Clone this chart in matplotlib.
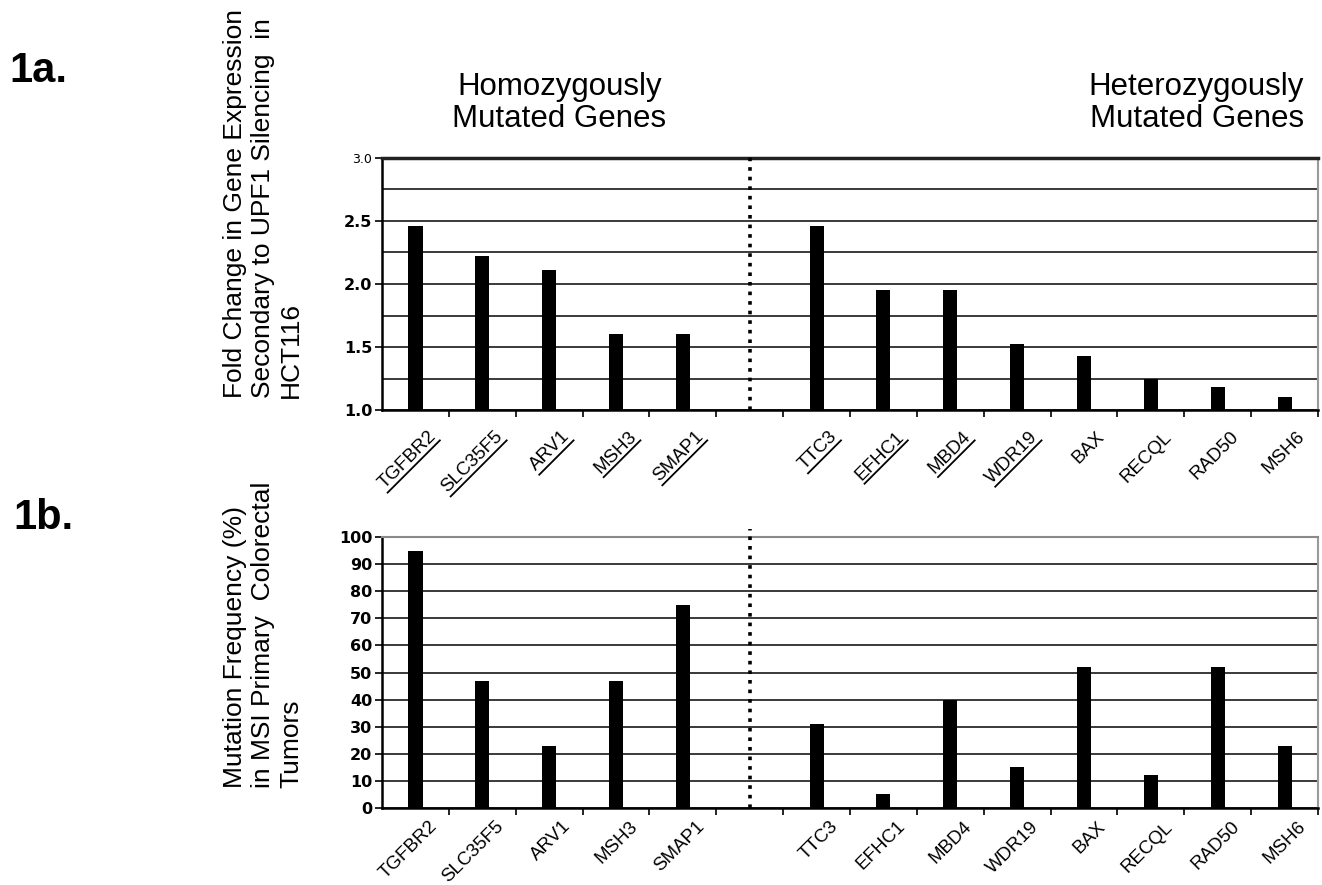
import numpy as np
import matplotlib.pyplot as plt
from matplotlib.lines import Line2D
from matplotlib.transforms import offset_copy, IdentityTransform

# gene groups and their slot positions (one empty slot between groups)
homo_genes = ['TGFBR2', 'SLC35F5', 'ARV1', 'MSH3', 'SMAP1']
hetero_genes = ['TTC3', 'EFHC1', 'MBD4', 'WDR19', 'BAX', 'RECQL', 'RAD50', 'MSH6']

# 1a: fold change in expression after UPF1 silencing
fold_homo = [2.46, 2.22, 2.11, 1.60, 1.60]
fold_hetero = [2.46, 1.95, 1.95, 1.52, 1.43, 1.25, 1.18, 1.10]

# 1b: mutation frequency (%) in MSI primary colorectal tumors
freq_homo = [95, 47, 23, 47, 75]
freq_hetero = [31, 5, 40, 15, 52, 12, 52, 23]

underlined = ['TGFBR2', 'SLC35F5', 'ARV1', 'MSH3', 'SMAP1',
              'TTC3', 'EFHC1', 'MBD4', 'WDR19']

genes = homo_genes + hetero_genes
pos = list(range(len(homo_genes))) + \
    list(range(len(homo_genes) + 1, len(homo_genes) + 1 + len(hetero_genes)))
n_slots = len(homo_genes) + 1 + len(hetero_genes)
divider = len(homo_genes)

ARIAL = ['Liberation Sans', 'DejaVu Sans']

fig = plt.figure(figsize=(13.22, 8.85), dpi=100)
ax1 = fig.add_axes([0.289, 0.5367, 0.708, 0.2848])
ax2 = fig.add_axes([0.289, 0.087, 0.708, 0.3062])


def style_axes(ax, ymin, ymax, major, minor):
    ax.set_xlim(-0.5, n_slots - 0.5)
    ax.set_ylim(ymin, ymax)
    ax.set_yticks(np.arange(ymin, ymax + minor / 2, major))
    ax.set_yticks(np.arange(ymin, ymax + minor / 2, minor), minor=True)
    ax.yaxis.grid(True, which='both', color='#2a2a2a', lw=1.3)
    ax.set_axisbelow(True)
    ax.set_xticks(pos)
    ax.set_xticklabels([])
    ax.set_xticks(np.arange(0.5, n_slots, 1.0), minor=True)
    ax.tick_params(axis='x', which='major', length=0)
    ax.tick_params(axis='x', which='minor', length=5, width=1.2,
                   direction='out', color='black')
    ax.tick_params(axis='y', which='major', length=5, width=1.2,
                   direction='out', labelsize=11.5, pad=2)
    ax.tick_params(axis='y', which='minor', length=0)
    ax.spines['left'].set_linewidth(1.8)
    ax.spines['bottom'].set_linewidth(1.8)
    ax.spines['right'].set_color('#9a9a9a')
    ax.spines['right'].set_linewidth(1.5)


style_axes(ax1, 1.0, 3.0, 0.5, 0.25)
style_axes(ax2, 0, 100, 10, 10)
ax1.spines['top'].set_linewidth(2.5)
ax1.spines['top'].set_color('#222222')
ax2.spines['top'].set_color('#8a8a8a')
ax2.spines['top'].set_linewidth(1.5)
ax1.set_yticklabels([f'{v:.1f}' for v in np.arange(1.0, 3.01, 0.5)])
for ax in (ax1, ax2):
    for lab in ax.get_yticklabels():
        lab.set_fontweight('bold')
        lab.set_family('DejaVu Sans')
ax1.get_yticklabels()[-1].set_fontsize(9)
ax1.get_yticklabels()[-1].set_fontweight('normal')

ax1.bar(pos, fold_homo + fold_hetero, width=0.21, color='black', zorder=3)
ax2.bar(pos, freq_homo + freq_hetero, width=0.21, color='black', zorder=3)

ax1.plot([divider, divider], [1.0, 3.04], ls=':', color='black', lw=2.6,
         clip_on=False, zorder=4)
ax2.plot([divider, divider], [0, 103], ls=':', color='black', lw=2.6,
         clip_on=False, zorder=4)


def gene_labels(ax, dx, dy, size):
    trans = offset_copy(ax.get_xaxis_transform(), fig=fig, x=dx, y=-dy,
                        units='dots')
    out = []
    for x, name in zip(pos, genes):
        t = ax.text(x, 0, name, transform=trans, rotation=45, ha='right',
                    va='center', rotation_mode='anchor', fontsize=size,
                    family=ARIAL)
        out.append((x, name, t))
    return out


top_labels = gene_labels(ax1, 18, 24, 13.5)
gene_labels(ax2, 19, 16, 13.5)

fig.text(0.199, 0.55, 'Fold Change in Gene Expression\n'
         'Secondary to UPF1 Silencing  in\nHCT116', rotation=90,
         ha='center', va='bottom', multialignment='left', fontsize=19,
         family=ARIAL, linespacing=1.2)
fig.text(0.199, 0.1096, 'Mutation Frequency (%)\n'
         'in MSI Primary  Colorectal\nTumors', rotation=90,
         ha='center', va='bottom', multialignment='left', fontsize=19,
         family=ARIAL, linespacing=1.2)

fig.text(0.007, 0.92, '1a.', fontsize=30, fontweight='bold', family=ARIAL,
         ha='left', va='center')
fig.text(0.01, 0.415, '1b.', fontsize=30, fontweight='bold', family=ARIAL,
         ha='left', va='center')

fig.text(0.423, 0.8836, 'Homozygously\nMutated Genes', fontsize=22.5,
         family=ARIAL, ha='center', va='center', linespacing=1.05)
fig.text(0.9864, 0.8836, 'Heterozygously\nMutated Genes', fontsize=22.5,
         family=ARIAL, ha='right', va='center', multialignment='right',
         linespacing=1.05)

# underline the labels of genes that are hand-marked in panel 1a
fig.canvas.draw()
renderer = fig.canvas.get_renderer()
c = s = np.sqrt(0.5)
for x, name, t in top_labels:
    if name not in underlined:
        continue
    w, h, d = renderer.get_text_width_height_descent(
        name, t.get_fontproperties(), ismath=False)
    px, py = t.get_transform().transform((x, 0))
    off = h / 2 - d + 2.5
    x1, y1 = px + off * s, py - off * c
    x0, y0 = x1 - w * c, y1 - w * s
    fig.add_artist(Line2D([x0, x1], [y0, y1], color='black', lw=1.3,
                          transform=IdentityTransform()))

fig.savefig('out.png', dpi=100)
